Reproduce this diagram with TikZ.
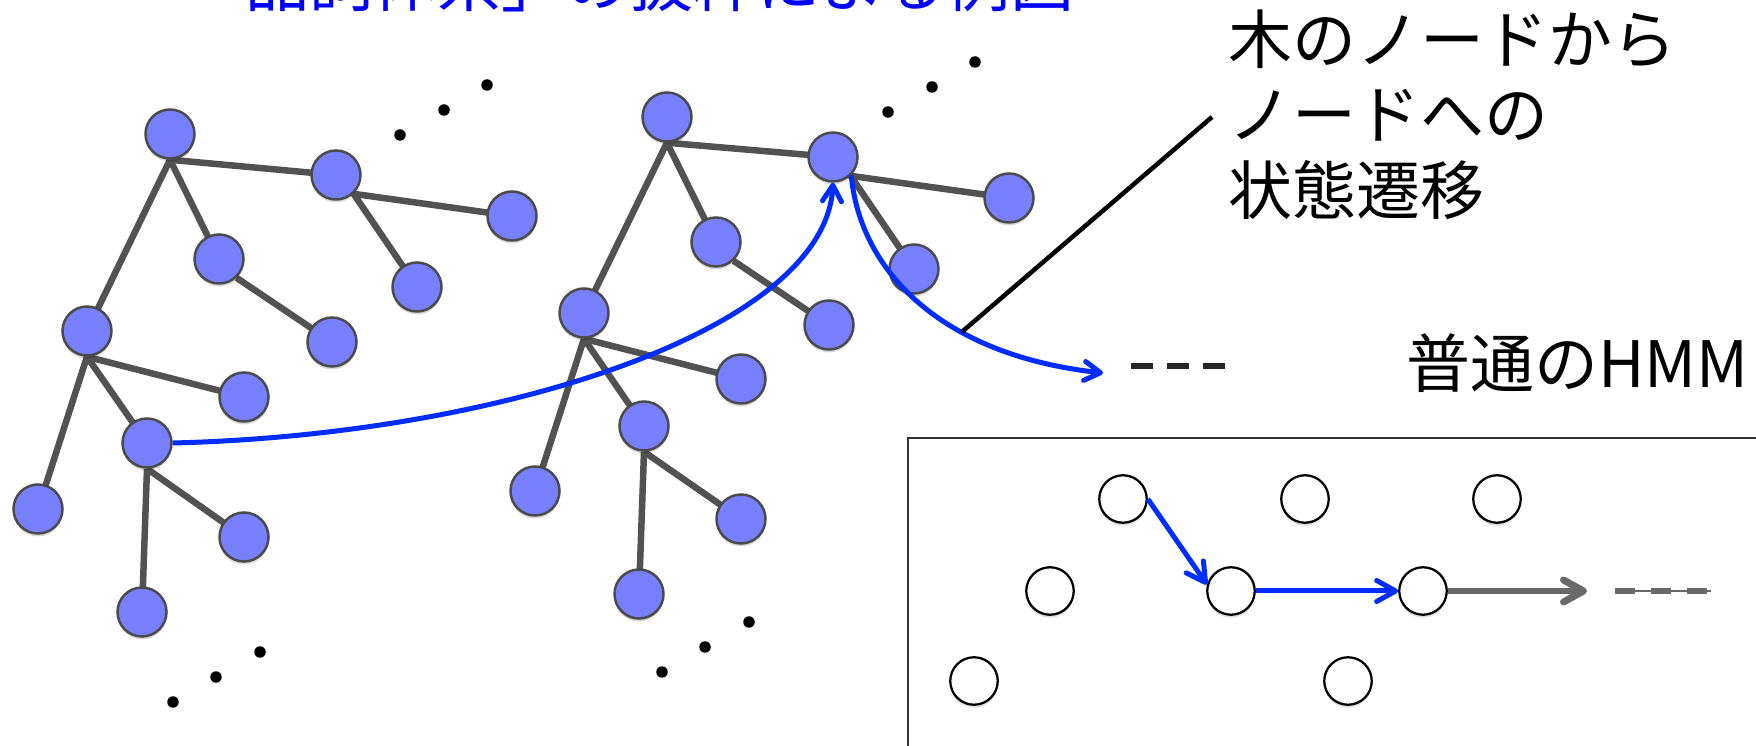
\documentclass[tikz,border=0pt]{standalone}
\usepackage{fontspec}
\setmainfont{Noto Sans CJK JP}
\usetikzlibrary{arrows.meta,backgrounds,shadows}
\definecolor{nodefill}{RGB}{120,128,255}
\definecolor{nodeline}{RGB}{75,75,75}
\definecolor{edgegray}{RGB}{82,82,82}
\definecolor{curveblue}{RGB}{0,45,255}
\definecolor{titleblue}{RGB}{0,0,255}
\definecolor{hmmgray}{RGB}{105,105,105}
\begin{document}
\begin{tikzpicture}[x=0.02cm,y=-0.02cm,
  tnode/.style={circle,draw=nodeline,line width=0.05cm,fill=nodefill,minimum size=0.98cm,inner sep=0pt,
    drop shadow={shadow xshift=0cm,shadow yshift=-0.06cm,opacity=0.15,fill=black}},
  hnode/.style={circle,draw=black,line width=0.045cm,fill=white,minimum size=0.95cm,inner sep=0pt,
    drop shadow={shadow xshift=0cm,shadow yshift=-0.06cm,opacity=0.12,fill=black}},
  tedge/.style={draw=edgegray,line width=0.13cm},
  dotmark/.style={circle,fill=black,minimum size=0.23cm,inner sep=0pt},
  bluecurve/.style={draw=curveblue,line width=0.1cm,-{Straight Barb[length=0.32cm,width=0.38cm,round]}},
  hblue/.style={draw=curveblue,line width=0.1cm,-{Straight Barb[length=0.38cm,width=0.42cm,round]}},
  hgray/.style={draw=hmmgray,line width=0.14cm,-{Straight Barb[length=0.4cm,width=0.44cm,round]}},
  txt/.style={inner sep=0pt,font=\fontsize{36.4pt}{43pt}\selectfont},
]
\begin{pgfonlayer}{background}
\fill[white] (0,0) rectangle (1756,746);
\end{pgfonlayer}
\useasboundingbox (0,0) rectangle (1756,746);

% title (cut off at top, as in the reference)
\node[txt,anchor=base west,text=titleblue] (title) at (181,7) {「品詞体系」の抜粋による例図};

% tree 1
\node[tnode] (A) at (170,134) {};
\node[tnode] (B) at (336,175) {};
\node[tnode] (C) at (512,216) {};
\node[tnode] (D) at (219,259) {};
\node[tnode] (E) at (417,287) {};
\node[tnode] (F) at (332,342) {};
\node[tnode] (G) at (87,331) {};
\node[tnode] (H) at (244,397) {};
\node[tnode] (I) at (147,443) {};
\node[tnode] (J) at (38,509) {};
\node[tnode] (K) at (244,537) {};
\node[tnode] (L) at (142,612) {};

% tree 2
\node[tnode] (a) at (667,117) {};
\node[tnode] (b) at (833,157) {};
\node[tnode] (c) at (1009,198) {};
\node[tnode] (d) at (716,242) {};
\node[tnode] (e) at (914,269) {};
\node[tnode] (f) at (829,325) {};
\node[tnode] (g) at (584,313) {};
\node[tnode] (h) at (741,379) {};
\node[tnode] (i) at (644,426) {};
\node[tnode] (j) at (535,491) {};
\node[tnode] (k) at (741,519) {};
\node[tnode] (l) at (639,594) {};

\begin{pgfonlayer}{background}
\draw[tedge] (A.south) -- (B.center);
\draw[tedge] (A.south) -- (D.center);
\draw[tedge] (A.south) -- (G.center);
\draw[tedge] (B.-47) -- (C.center);
\draw[tedge] (B.-47) -- (E.center);
\draw[tedge] (D.-47) -- (F.center);
\draw[tedge] (G.south) -- (H.center);
\draw[tedge] (G.south) -- (I.center);
\draw[tedge] (G.south) -- (J.center);
\draw[tedge] (I.south) -- (K.center);
\draw[tedge] (I.south) -- (L.center);
\draw[tedge] (a.south) -- (b.center);
\draw[tedge] (a.south) -- (d.center);
\draw[tedge] (a.south) -- (g.center);
\draw[tedge] (b.-47) -- (c.center);
\draw[tedge] (b.-47) -- (e.center);
\draw[tedge] (d.-47) -- (f.center);
\draw[tedge] (g.south) -- (h.center);
\draw[tedge] (g.south) -- (i.center);
\draw[tedge] (g.south) -- (j.center);
\draw[tedge] (i.south) -- (k.center);
\draw[tedge] (i.south) -- (l.center);
\end{pgfonlayer}

% ellipsis dots
\node[dotmark] (p1) at (400,135) {};
\node[dotmark] (p2) at (444,110) {};
\node[dotmark] (p3) at (487,85) {};
\node[dotmark] (q1) at (260,652) {};
\node[dotmark] (q2) at (216,677) {};
\node[dotmark] (q3) at (173,702) {};
\node[dotmark] (r1) at (888,112) {};
\node[dotmark] (r2) at (932,87) {};
\node[dotmark] (r3) at (975,62) {};
\node[dotmark] (s1) at (749,622) {};
\node[dotmark] (s2) at (705,647) {};
\node[dotmark] (s3) at (662,672) {};

% blue transitions
\draw[bluecurve] (I.east) .. controls (500,435) and (825,330) .. (b.south);
\coordinate (c2end) at (1103,373);
\draw[bluecurve] (b.-45) .. controls (860,270) and (940,355) .. (c2end) coordinate[pos=0.65] (touch);

% label
\node[txt,anchor=base west] (lab1) at (1228,64) {木のノードから};
\node[txt,anchor=base west] (lab2) at (1228,139) {ノードへの};
\node[txt,anchor=base west] (lab3) at (1228,215) {状態遷移};
\coordinate (labpt) at (1212,117);
\draw[black,line width=0.09cm] (touch) -- (labpt);

% dashes after curve
\coordinate (dsA) at (1131,366);
\coordinate (dsB) at (1229,366);
\draw[draw=black!85,line width=0.13cm,dash pattern=on 0.44cm off 0.28cm] (dsA) -- (dsB);

\node[txt,anchor=base west] (hmmlab) at (1406,388) {普通のHMM};

% HMM box
\draw[draw=black!80,line width=0.035cm] (908,438) rectangle (1820,820);
\node[hnode] (h1) at (1123,499) {};
\node[hnode] (h2) at (1305,499) {};
\node[hnode] (h3) at (1497,499) {};
\node[hnode] (h4) at (1050,591) {};
\node[hnode] (h5) at (1231,591) {};
\node[hnode] (h6) at (1423,591) {};
\node[hnode] (h7) at (974,681) {};
\node[hnode] (h8) at (1348,681) {};
\draw[hblue] (h1.east) -- (h5.165);
\draw[hblue] (h5.east) -- (h6.west);
\coordinate (gend) at (1587,591);
\draw[hgray] (h6.east) -- (gend);
\coordinate (gdA) at (1615,591);
\coordinate (gdB) at (1711,591);
\draw[draw=hmmgray,line width=0.03cm] (gdA) -- (gdB);
\draw[draw=hmmgray,line width=0.13cm,dash pattern=on 0.4cm off 0.32cm] (gdA) -- (gdB);
\end{tikzpicture}
\end{document}
